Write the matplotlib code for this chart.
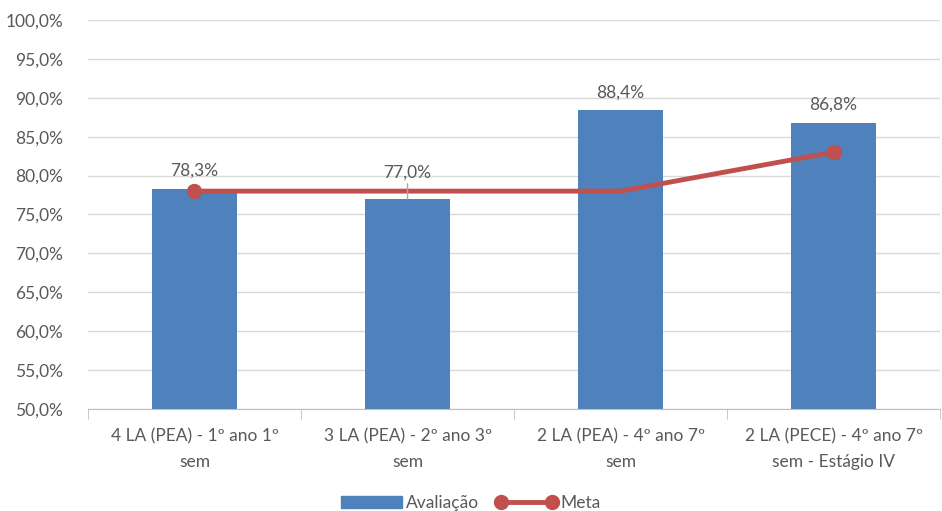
import matplotlib
matplotlib.use("Agg")
from matplotlib import pyplot as plt
from matplotlib.ticker import FuncFormatter
from matplotlib.lines import Line2D
from matplotlib.patches import Patch

categorias = ["4 LA (PEA) - 1º ano 1º\nsem",
              "3 LA (PEA) - 2º ano 3º\nsem",
              "2 LA (PEA) - 4º ano 7º\nsem",
              "2 LA (PECE) - 4º ano 7º\nsem - Estágio IV"]
avaliacao = [78.3, 77.0, 88.4, 86.8]
meta = [78.0, 78.0, 78.0, 83.0]
rotulos = ["78,3%", "77,0%", "88,4%", "86,8%"]
meta_marcadores = [0, 3]

plt.rcParams['font.family'] = ['Lato', 'DejaVu Sans']
cinza = "#595959"
azul = "#4F81BD"
vermelho = "#C0504D"

fig = plt.figure(figsize=(9.42, 5.11), dpi=100)
ax = fig.add_axes([0.0934, 0.1996, 0.9046, 0.7614])

x = list(range(len(categorias)))
ax.bar(x, avaliacao, width=0.4, color=azul, zorder=2)
ax.plot(x, meta, color=vermelho, lw=3.5, marker="o", markersize=10,
        markevery=meta_marcadores, zorder=3)

for i, (v, txt) in enumerate(zip(avaliacao, rotulos)):
    if i == 1:
        # rotulo deslocado acima da linha, com linha guia
        ax.annotate(txt, xy=(i, v), xytext=(i, 79.3), ha="center", va="bottom",
                    fontsize=12.5, color=cinza,
                    arrowprops=dict(arrowstyle="-", color="#A6A6A6", lw=1,
                                    shrinkA=0, shrinkB=0))
    else:
        ax.annotate(txt, xy=(i, v), xytext=(0, 7), textcoords="offset points",
                    ha="center", va="bottom", fontsize=12.5, color=cinza)

ax.set_ylim(50, 100)
ax.set_yticks(range(50, 101, 5))
ax.yaxis.set_major_formatter(FuncFormatter(lambda v, p: f"{v:.1f}%".replace(".", ",")))
ax.set_xlim(-0.5, 3.5)
ax.set_xticks(x)
ax.set_xticklabels(categorias, linespacing=1.7)
ax.set_xticks([-0.5, 0.5, 1.5, 2.5, 3.5], minor=True)
ax.tick_params(axis="x", which="major", length=0, pad=14, labelsize=12.5, colors=cinza)
ax.tick_params(axis="x", which="minor", length=7, color="#BFBFBF")
ax.tick_params(axis="y", length=0, pad=18, labelsize=12.5, colors=cinza)

ax.grid(axis="y", color="#D9D9D9", lw=1, zorder=0)
ax.set_axisbelow(True)
for s in ["top", "right", "left"]:
    ax.spines[s].set_visible(False)
ax.spines["bottom"].set_color("#BFBFBF")

handles = [Patch(color=azul, label="Avaliação"),
           Line2D([], [], color=vermelho, lw=3.5, marker="o", markersize=10, label="Meta")]
fig.legend(handles=handles, loc="lower center", bbox_to_anchor=(0.5, -0.03), ncol=2,
           frameon=False, fontsize=12.5, labelcolor=cinza, handlelength=3.5,
           handletextpad=0.2, columnspacing=1.0, numpoints=2)

fig.savefig("out.png", dpi=100)
